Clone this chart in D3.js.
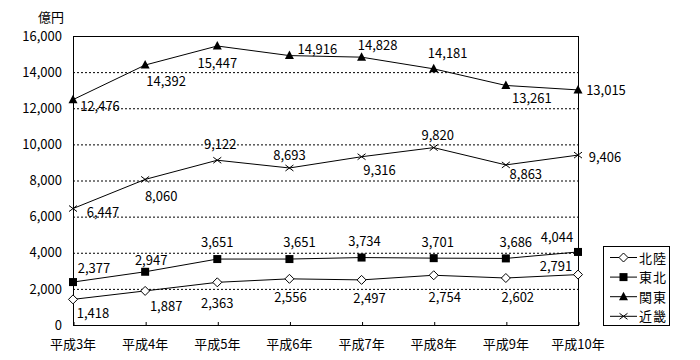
<!DOCTYPE html>
<html><head><meta charset="utf-8">
<script src="https://cdn.jsdelivr.net/npm/d3@7"></script>
<style>
body{margin:0;background:#fff;}
svg text{font-family:"Noto Sans CJK JP","MS Gothic",sans-serif;fill:#000;}
</style></head>
<body><svg id="c" width="700" height="360"></svg>
<script>
const categories = ["平成3年","平成4年","平成5年","平成6年","平成7年","平成8年","平成9年","平成10年"];
const hokuriku = [1418,1887,2363,2556,2497,2754,2602,2791];
const tohoku   = [2377,2947,3651,3651,3734,3701,3686,4044];
const kanto    = [12476,14392,15447,14916,14828,14181,13261,13015];
const kinki    = [6447,8060,9122,8693,9316,9820,8863,9406];
const seriesNames = ["北陸","東北","関東","近畿"];
const yTicks = [0,2000,4000,6000,8000,10000,12000,14000,16000];
const unitLabel = "億円";

// label offsets (dx, dy) relative to each point
const hokurikuLabelOff = [[20,13],[21,15],[0,20],[1,18],[8,18],[11,21],[12,18],[-22,-9]];
const tohokuLabelOff   = [[21,-15],[6,-12],[0,-18],[10,-18],[3,-17],[4,-17],[10,-17],[-21,-15]];
const kantoLabelOff    = [[27,6],[21,15],[0,17],[28,-7],[16,-13],[14,-16],[26,12],[28,0]];
const kinkiLabelOff    = [[30,3],[16,16],[3,-17],[0,-13],[18,13],[4,-13],[20,9],[27,1]];

const svg = d3.select("#c");
const L=73, R=578, T=36, B=325;
const x = d3.scalePoint().domain(categories).range([L,R]);
const y = d3.scaleLinear().domain([0,16000]).range([B,T]);
const fmt = d3.format(",");

// gridlines
svg.append("g").selectAll("line").data(yTicks.filter(d=>d>0&&d<16000)).join("line")
  .attr("x1",L).attr("x2",R).attr("y1",d=>y(d)+0.5).attr("y2",d=>y(d)+0.5)
  .attr("stroke","#000").attr("stroke-width",1).attr("stroke-dasharray","2,2");

// frame
svg.append("rect").attr("x",L+0.5).attr("y",T+0.5).attr("width",R-L).attr("height",B-T)
  .attr("fill","none").attr("stroke","#000").attr("stroke-width",1);

// y axis labels
const ya = svg.append("g").attr("transform",`translate(${L},0)`)
  .call(d3.axisLeft(y).tickValues(yTicks).tickFormat(fmt).tickSize(0).tickPadding(11));
ya.select(".domain").remove();
ya.selectAll("text").attr("font-size",13).style("font-family","\"Noto Sans CJK JP\",sans-serif");

// x axis
const xa = svg.append("g").attr("transform",`translate(0,${B})`)
  .call(d3.axisTop(x).tickSize(3).tickFormat(""));
xa.select(".domain").remove();
xa.selectAll("line").attr("transform","translate(0.5,0)");
svg.append("g").selectAll("text").data(categories).join("text")
  .attr("x",d=>x(d)).attr("y",343).attr("text-anchor","middle").attr("dominant-baseline","central")
  .attr("font-size",13).text(d=>d);

svg.append("text").attr("x",51).attr("y",16).attr("text-anchor","middle").attr("dominant-baseline","central")
  .attr("font-size",13).text(unitLabel);

function marker(g, type, cx, cy){
  if(type==="diamond"){
    g.append("path").attr("d",`M${cx},${cy-4.5}L${cx+4.5},${cy}L${cx},${cy+4.5}L${cx-4.5},${cy}Z`)
      .attr("fill","#fff").attr("stroke","#000").attr("stroke-width",1);
  } else if(type==="square"){
    g.append("rect").attr("x",cx-4).attr("y",cy-4).attr("width",8).attr("height",8).attr("fill","#000");
  } else if(type==="triangle"){
    g.append("path").attr("d",`M${cx},${cy-5}L${cx+4.5},${cy+3.5}L${cx-4.5},${cy+3.5}Z`).attr("fill","#000");
  } else {
    g.append("path").attr("d",`M${cx-4},${cy-3}L${cx+4},${cy+3}M${cx-4},${cy+3}L${cx+4},${cy-3}`)
      .attr("stroke","#000").attr("stroke-width",1).attr("fill","none");
  }
}

const series = [
  {name:seriesNames[0], data:hokuriku, off:hokurikuLabelOff, m:"diamond"},
  {name:seriesNames[1], data:tohoku, off:tohokuLabelOff, m:"square"},
  {name:seriesNames[2], data:kanto, off:kantoLabelOff, m:"triangle"},
  {name:seriesNames[3], data:kinki, off:kinkiLabelOff, m:"cross"}
];
const line = d3.line().x((d,i)=>x(categories[i])).y(d=>y(d));
series.forEach(s=>{
  const g = svg.append("g");
  g.append("path").attr("d",line(s.data)).attr("fill","none").attr("stroke","#000").attr("stroke-width",1);
  s.data.forEach((v,i)=>marker(g,s.m,x(categories[i]),y(v)));
  g.selectAll("text").data(s.data).join("text")
    .attr("x",(d,i)=>x(categories[i])+s.off[i][0]).attr("y",(d,i)=>y(d)+s.off[i][1])
    .attr("text-anchor","middle").attr("dominant-baseline","central").attr("font-size",13)
    .text(d=>fmt(d));
});

// legend
const lg = svg.append("g");
lg.append("rect").attr("x",603.5).attr("y",246.5).attr("width",66).attr("height",79)
  .attr("fill","#fff").attr("stroke","#000");
series.forEach((s,i)=>{
  const cy = 257 + i*19.6;
  lg.append("line").attr("x1",610).attr("x2",637).attr("y1",cy+0.5).attr("y2",cy+0.5).attr("stroke","#000");
  marker(lg,s.m,623.5,cy+0.5);
  lg.append("text").attr("x",639).attr("y",cy).attr("dominant-baseline","central")
    .attr("font-size",13).attr("letter-spacing",1).text(s.name);
});
</script></body></html>
